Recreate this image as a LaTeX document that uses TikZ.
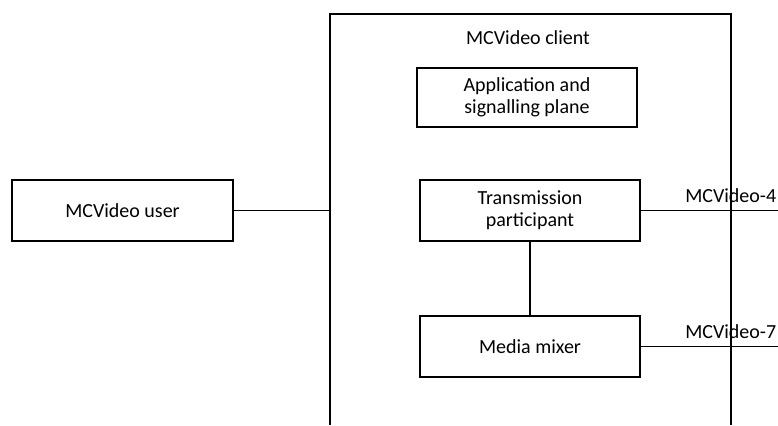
\documentclass[tikz,border=0pt]{standalone}
\usepackage{fontspec}
\setmainfont{Carlito}
\begin{document}
\begin{tikzpicture}[x=0.75pt,y=-0.75pt,
  every node/.style={font=\fontsize{15}{16.5}\selectfont, inner sep=0pt},
  conn/.style={line width=1.2pt},
  plainbox/.style={draw, line width=1.2pt, align=center, minimum width=165pt, minimum height=45.75pt},
  thickbox/.style={draw, line width=1.8pt, align=center, minimum width=165pt, minimum height=45.75pt},
  lbl/.style={anchor=west}]
\useasboundingbox (0,0) rectangle (778,425);
% client frame (open at bottom)
\coordinate (cbl) at (330,425);
\coordinate (ctl) at (330,14);
\coordinate (ctr) at (731,14);
\coordinate (cbr) at (731,425);
\draw[conn] (cbl) -- (ctl) -- (ctr) -- (cbr);
\coordinate (cleft) at (330,210.5);
\node (client) at (528,38) {MCVideo client};
\node[plainbox, minimum height=44.25pt] (app) at (527,97.5) {Application and\\signalling plane};
\node[plainbox, minimum width=165.75pt] (user) at (122.5,210.5) {MCVideo user};
\node[thickbox] (trans) at (530,210.5) {Transmission\\participant};
\node[thickbox] (mixer) at (530,346.5) {Media mixer};
\coordinate (e4) at (778,210.5);
\coordinate (e7) at (778,346.5);
\draw[conn] (user) -- (cleft);
\draw[conn] (trans) -- (mixer);
\draw[conn] (trans.east) -- (e4);
\draw[conn] (mixer.east) -- (e7);
\node[lbl] (l4) at (685,196) {MCVideo-4};
\node[lbl] (l7) at (685,332) {MCVideo-7};
\end{tikzpicture}
\end{document}
